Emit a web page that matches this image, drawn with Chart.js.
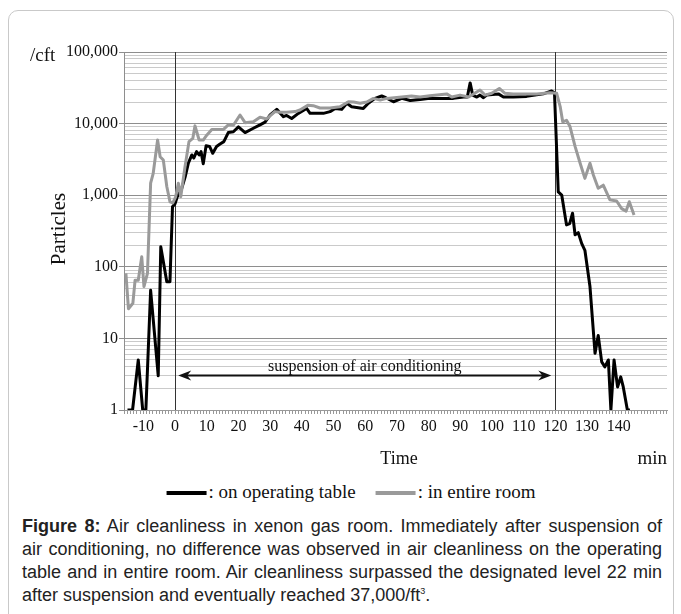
<!DOCTYPE html>
<html><head><meta charset="utf-8">
<script src="https://cdn.jsdelivr.net/npm/chart.js@4/dist/chart.umd.min.js"></script>
<style>
html,body{margin:0;padding:0;background:#fff;}
body{width:681px;height:614px;position:relative;overflow:hidden;font-family:"Liberation Serif","Times New Roman",serif;color:#111;}
#frame{position:absolute;left:8px;top:10px;width:664px;height:612px;border:1px solid #c9c9c9;border-radius:10px;}
#wrap{position:absolute;left:0;top:0;width:681px;height:470px;}
.t{position:absolute;white-space:nowrap;}
.cap{position:absolute;left:22px;width:640px;font-family:"Liberation Sans",Arial,sans-serif;font-size:18px;line-height:23px;color:#222;}
.cap div{text-align:justify;text-align-last:justify;white-space:nowrap;}
.cap div.last{text-align-last:left;}
.sw{display:inline-block;width:40px;height:4px;vertical-align:middle;margin-right:2px;position:relative;top:-1px;}
</style></head><body>
<div id="frame"></div>
<div id="wrap"><canvas id="c" width="681" height="470"></canvas></div>
<div class="t" style="left:30px;top:44px;font-size:19px;line-height:22px;">/cft</div>
<div class="t" style="left:58px;top:229px;font-size:21px;line-height:22px;transform:translate(-50%,-50%) rotate(-90deg);">Particles</div>
<div class="t" style="left:399px;top:458px;font-size:18px;line-height:22px;transform:translate(-50%,-50%);">Time</div>
<div class="t" style="left:667px;top:458px;font-size:19px;line-height:22px;transform:translate(-100%,-50%);">min</div>
<div class="t" id="legend" style="left:351px;top:492px;font-size:19px;line-height:22px;transform:translate(-50%,-50%);"></div>
<div class="cap" style="top:515px;">
<div><b>Figure 8:</b> Air cleanliness in xenon gas room. Immediately after suspension of</div>
<div>air conditioning, no difference was observed in air cleanliness on the operating</div>
<div>table and in entire room. Air cleanliness surpassed the designated level 22 min</div>
<div class="last">after suspension and eventually reached 37,000/ft<sup style="font-size:9px;line-height:0;">3</sup>.</div>
</div>
<script>
// ---- data (minutes, particles per cubic foot) ----
const seriesNames = ['on operating table', 'in entire room'];
const seriesColors = ['#000000', '#9a9a9a'];

const tableTimes = [-15,-13.4,-11.6,-10.2,-9.2,-7.7,-5.3,-4.5,-2.6,-1.6,-0.8,0,0.7,2,3.2,4.2,5.3,5.9,6.8,7.6,8.2,8.9,9.8,10.9,11.9,13.1,14.2,15.4,16.8,18.4,20,22.1,24.7,26.8,28.4,30,32.1,34.2,35.2,36.8,38.9,41.5,42.6,46.8,48.9,50.5,52.6,54.2,55.7,59.4,61,63.1,65.2,66.5,68.9,71.5,74.2,77.3,80.4,84.6,87.8,91,92.2,93.1,93.9,95.2,96.2,97.3,98.3,102,103.6,106.7,110.9,116.2,118.8,119.7,120.9,122,123.5,124.5,125.4,126.2,127.2,128.3,129.3,130.9,132.5,133.5,134.6,135.6,136.7,137.5,138.5,139.6,140.6,141.4,142.7,143.5];
const tableValues = [1,1,5,1,1,47,3,190,62,62,690,760,950,1200,1800,2800,3650,3300,4060,3650,4060,2740,4900,4800,3850,4800,5200,5600,7500,7700,9000,7500,8600,9600,10500,13200,15800,12500,13000,11800,13900,16300,13900,13900,14700,16300,15800,19200,17200,16300,19200,22500,24300,23000,20200,22500,21000,21700,22500,22500,22500,23500,23500,37000,25000,23500,25000,23000,25000,26000,23500,23500,24000,26000,28600,27000,1110,1000,385,400,560,280,300,211,170,53,6.2,11,4.7,4,5,1,5,2.1,2.9,2.1,1,1];

const roomTimes = [-15.5,-14.7,-13.3,-12.6,-11.6,-10.5,-9.8,-8.7,-7.7,-6.9,-5.5,-4.7,-3.7,-2.6,-1.6,-0.7,0.2,1.05,1.8,3.15,4.4,5.6,6.3,7.6,8.9,10,11.6,15.3,16.8,18.4,20.5,22.1,24.7,26.8,28.9,31.5,33.1,35.2,37.9,39.4,42,43.6,45.7,48.9,52,54.7,56.3,58.4,60.5,62.6,64.7,66.8,71.5,74.6,77.3,80.4,85.7,87.3,89.9,92.6,96.2,97.8,99.9,102.3,104.1,106.7,110.9,114.1,118.3,120.4,121.5,122.3,123.5,124.6,126.2,127.8,129.3,130.9,132,133.5,135.1,137.2,139.3,140.9,142.3,143.3,144.8];
const roomValues = [81,26,31,65,65,138,53,81,1470,2000,5900,3450,3100,1320,810,780,950,1470,950,2500,5600,6200,9300,5900,5900,6900,8300,8300,9600,9500,13200,10300,10600,12300,11600,14700,14400,14400,14700,15500,18100,17800,16500,16500,17200,20200,20000,19300,20000,22500,21300,22500,23500,24300,23500,24500,26000,23500,25000,23500,29500,25000,26500,31000,26500,26000,26000,26000,27000,26500,17300,10600,11100,9100,4800,2790,1720,2790,1900,1250,1380,860,830,650,600,810,530];

const xTickLabels = [-10,0,10,20,30,40,50,60,70,80,90,100,110,120,130,140];
const yTickLabels = [1,10,100,1000,10000,100000];
const xRange = [-16.1, 155.2];

// annotation: suspension of air conditioning from 0 to 120 min
const suspensionTimes = [0, 120];
const arrowEnds = [1.0, 118.7];
const arrowLevel = 3.1;
const suspensionText = 'suspension of air conditioning';

// ---- build ----
function zip(xs, ys){ const n=Math.min(xs.length, ys.length); const out=[]; for(let i=0;i<n;i++) out.push({x:xs[i], y:ys[i]}); return out; }
const yAllTicks = [];
for (let k=0;k<5;k++){ for (let m=1;m<10;m++) yAllTicks.push(m*Math.pow(10,k)); }
yAllTicks.push(100000);
const isMajorY = v => yTickLabels.some(d => Math.abs(d - v) < 1e-6 * d);

document.getElementById('legend').innerHTML =
  '<span class="sw" style="background:'+seriesColors[0]+'"></span>: '+seriesNames[0]+
  '<span style="display:inline-block;width:20px"></span>'+
  '<span class="sw" style="background:'+seriesColors[1]+'"></span>: '+seriesNames[1];

const annot = {
  id:'annot',
  beforeDatasetsDraw(chart){
    const {ctx, chartArea:a, scales:{x,y}} = chart;
    ctx.save();
    ctx.strokeStyle = '#333'; ctx.lineWidth = 1;
    suspensionTimes.forEach(t => {
      const px = Math.round(x.getPixelForValue(t)) + 0.5;
      ctx.beginPath(); ctx.moveTo(px, a.top); ctx.lineTo(px, a.bottom); ctx.stroke();
    });
    ctx.restore();
  },
  afterDatasetsDraw(chart){
    const {ctx, scales:{x,y}} = chart;
    const x1 = x.getPixelForValue(arrowEnds[0]), x2 = x.getPixelForValue(arrowEnds[1]);
    const py = Math.round(y.getPixelForValue(arrowLevel)) + 0.5;
    ctx.save();
    ctx.strokeStyle = '#111'; ctx.fillStyle = '#111'; ctx.lineWidth = 2;
    ctx.beginPath(); ctx.moveTo(x1+6, py); ctx.lineTo(x2-6, py); ctx.stroke();
    function head(tx, dir){
      ctx.beginPath();
      ctx.moveTo(tx, py);
      ctx.lineTo(tx + dir*13, py - 5);
      ctx.lineTo(tx + dir*9, py);
      ctx.lineTo(tx + dir*13, py + 5);
      ctx.closePath(); ctx.fill();
    }
    head(x1, 1); head(x2, -1);
    ctx.font = '16px "Liberation Serif", serif';
    ctx.textAlign = 'center'; ctx.textBaseline = 'alphabetic';
    ctx.fillText(suspensionText, (x1+x2)/2, py - 5);
    ctx.restore();
  }
};

new Chart(document.getElementById('c'), {
  type:'line',
  data:{ datasets:[
    {label:seriesNames[0], data:zip(tableTimes, tableValues), borderColor:seriesColors[0], borderWidth:3, pointRadius:0, tension:0, fill:false, order:2, borderJoinStyle:'round'},
    {label:seriesNames[1], data:zip(roomTimes, roomValues), borderColor:seriesColors[1], borderWidth:3, pointRadius:0, tension:0, fill:false, order:1, borderJoinStyle:'round'}
  ]},
  options:{
    responsive:false, animation:false, events:[],
    layout:{padding:{left:0, right:14, top:52, bottom:0}},
    plugins:{legend:{display:false}, tooltip:{enabled:false}},
    scales:{
      x:{
        type:'linear', min:xRange[0], max:xRange[1],
        afterBuildTicks(s){ const t=[]; for(let v=-16; v<=155; v++) t.push({value:v}); s.ticks=t; },
        afterFit(s){ s.height = 60; },
        ticks:{autoSkip:false, maxRotation:0, minRotation:0, padding:3, color:'#111',
          font:{family:'"Liberation Serif", serif', size:16},
          callback:(v)=> xTickLabels.includes(v) ? String(v) : ''},
        grid:{drawOnChartArea:false, drawTicks:true, tickLength:4, color:'#999', lineWidth:1},
        border:{display:true, color:'#999', width:1}
      },
      y:{
        type:'logarithmic', min:1, max:100000,
        afterBuildTicks(s){ s.ticks = yAllTicks.map(v=>({value:v})); },
        afterFit(s){ s.width = 124; },
        ticks:{autoSkip:false, padding:1, color:'#111',
          font:{family:'"Liberation Serif", serif', size:16},
          callback:(v)=> isMajorY(v) ? Math.round(v).toLocaleString('en-US') : ''},
        grid:{tickLength:5, lineWidth:1,
          color:(c)=> (c.tick && isMajorY(c.tick.value)) ? '#8e8e8e' : '#cacaca',
          tickColor:(c)=> (c.tick && isMajorY(c.tick.value)) ? '#8e8e8e' : 'rgba(0,0,0,0)'},
        border:{display:true, color:'#8e8e8e', width:1}
      }
    }
  },
  plugins:[annot]
});
</script>
</body></html>
